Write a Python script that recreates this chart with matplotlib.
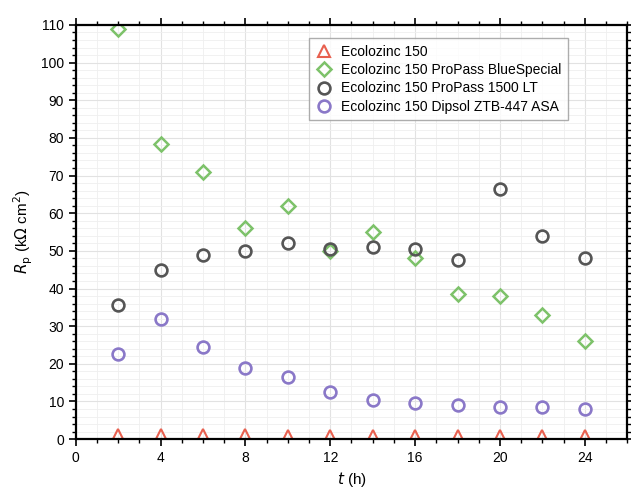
import matplotlib
matplotlib.use("Agg")
import matplotlib.pyplot as plt
from matplotlib.ticker import MultipleLocator

plt.rcParams['font.family'] = ['Liberation Sans', 'DejaVu Sans']

t = [2, 4, 6, 8, 10, 12, 14, 16, 18, 20, 22, 24]
eco = [1.2, 1.1, 1.0, 1.0, 0.9, 0.9, 0.9, 0.8, 0.8, 0.8, 0.7, 0.7]
blue_special = [109, 78.5, 71, 56, 62, 50, 55, 48, 38.5, 38, 33, 26]
lt1500 = [35.5, 45, 49, 50, 52, 50.5, 51, 50.5, 47.5, 66.5, 54, 48]
dipsol = [22.5, 32, 24.5, 19, 16.5, 12.5, 10.5, 9.5, 9, 8.5, 8.5, 8]

labels = ["Ecolozinc 150", "Ecolozinc 150 ProPass BlueSpecial",
          "Ecolozinc 150 ProPass 1500 LT", "Ecolozinc 150 Dipsol ZTB-447 ASA"]

fig = plt.figure(figsize=(6.31, 4.99), dpi=100)
ax = fig.add_axes([0.120, 0.120, 0.874, 0.830])

ax.plot(t, eco, ls='none', marker='^', ms=9, mfc='none', mec='#e8604f', mew=1.5, label=labels[0])
ax.plot(t, blue_special, ls='none', marker='D', ms=7.5, mfc='none', mec='#7dc26a', mew=1.8, label=labels[1])
ax.plot(t, lt1500, ls='none', marker='o', ms=8.5, mfc='none', mec='#555555', mew=1.9, label=labels[2])
ax.plot(t, dipsol, ls='none', marker='o', ms=8.5, mfc='none', mec='#8a78c8', mew=1.9, label=labels[3])

ax.set_xlim(0, 26)
ax.set_ylim(0, 110)
ax.xaxis.set_major_locator(MultipleLocator(4))
ax.xaxis.set_minor_locator(MultipleLocator(1))
ax.yaxis.set_major_locator(MultipleLocator(10))
ax.yaxis.set_minor_locator(MultipleLocator(2))
ax.grid(True, which='major', color='#e2e2e2', lw=0.8)
ax.grid(True, which='minor', color='#efefef', lw=0.6)
ax.set_axisbelow(True)

ax.tick_params(which='both', top=True, right=True, direction='out', labelsize=10)
ax.tick_params(which='major', length=5, width=1.2)
ax.tick_params(which='minor', length=3, width=1)
for s in ax.spines.values():
    s.set_linewidth(1.6)

ax.set_xlabel(r"$t$ (h)", fontsize=11)
ax.set_ylabel(r"$R_\mathrm{p}$ (k$\Omega$ cm$^2$)", fontsize=11)

ax.legend(loc='upper right', bbox_to_anchor=(0.905, 0.985), fontsize=10, frameon=True,
          fancybox=False, edgecolor='#999999', handletextpad=0.6, borderpad=0.5,
          labelspacing=0.3, handlelength=1.2)

fig.savefig("out.png", dpi=100)
